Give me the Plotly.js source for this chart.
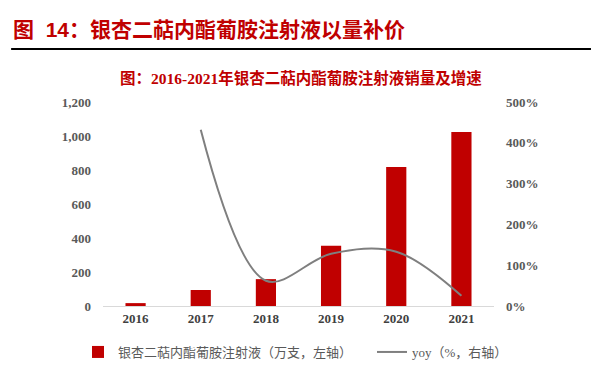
<!DOCTYPE html>
<html>
<head>
<meta charset="utf-8">
<script src="https://cdn.plot.ly/plotly-3.0.1.min.js"></script>
<style>html,body{margin:0;padding:0;background:#fff;}#chart{width:601px;height:377px;}</style>
</head>
<body>
<div id="chart"></div>
<script>
const years = ['2016', '2017', '2018', '2019', '2020', '2021'];
const sales = [17, 94, 158, 354, 818, 1024];
const yoy = [null, 432, 62, 128, 133, 25];
const leftTicks = [0, 200, 400, 600, 800, 1000, 1200];
const leftTickText = ['0', '200', '400', '600', '800', '1,000', '1,200'];
const rightTicks = [0, 100, 200, 300, 400, 500];
const rightTickText = ['0%', '100%', '200%', '300%', '400%', '500%'];
const seriesNames = ['银杏二萜内酯葡胺注射液（万支，左轴）', 'yoy（%，右轴）'];
const headerText = '图  14：银杏二萜内酯葡胺注射液以量补价';
const subText = '图：2016-2021年银杏二萜内酯葡胺注射液销量及增速';

const serif = '"Liberation Serif", "Noto Sans CJK SC", serif';
const tickFont = {family: serif, size: 13, color: '#595959', weight: 'bold'};
const legendFont = {family: serif, size: 13, color: '#595959'};

const traces = [
  {type: 'bar', x: years, y: sales, name: seriesNames[0], marker: {color: '#c00000'}, width: 0.31, yaxis: 'y', legend: 'legend'},
  {type: 'scatter', mode: 'lines', x: years, y: yoy, name: seriesNames[1], yaxis: 'y2', legend: 'legend2',
   line: {color: '#7f7f7f', width: 2, shape: 'spline', smoothing: 1}, connectgaps: false}
];

const layout = {
  width: 601, height: 377,
  margin: {l: 103, r: 107, t: 102, b: 71},
  paper_bgcolor: '#fff', plot_bgcolor: '#fff',
  showlegend: true,
  title: {text: headerText, xref: 'container', x: 13/601, xanchor: 'left', yref: 'container', y: 1 - 30/377, yanchor: 'middle',
          font: {family: '"Liberation Sans", "Noto Sans CJK SC", sans-serif', size: 21, color: '#c00000', weight: 'bold'}},
  xaxis: {type: 'category', showgrid: false, showline: true, linecolor: '#d9d9d9', linewidth: 1, ticks: '',
          tickfont: {family: serif, size: 13, color: '#404040', weight: 'bold'}, zeroline: false},
  yaxis: {range: [0, 1200], tickvals: leftTicks, ticktext: leftTickText, showgrid: false, zeroline: false, showline: false,
          ticks: '', tickfont: tickFont, ticklabelstandoff: 11},
  yaxis2: {range: [0, 500], tickvals: rightTicks, ticktext: rightTickText, overlaying: 'y', side: 'right', showgrid: false,
           zeroline: false, showline: false, ticks: '', tickfont: tickFont, ticklabelstandoff: 11},
  legend: {orientation: 'h', xref: 'container', yref: 'container', x: 78/601, xanchor: 'left', y: 1 - 352/377, yanchor: 'middle',
           font: legendFont, itemwidth: 30, bgcolor: 'rgba(0,0,0,0)'},
  legend2: {orientation: 'h', xref: 'container', yref: 'container', x: 372/601, xanchor: 'left', y: 1 - 352/377, yanchor: 'middle',
           font: legendFont, itemwidth: 30, bgcolor: 'rgba(0,0,0,0)'},
  annotations: [
    {text: subText, xref: 'paper', yref: 'paper', x: 0.506, y: 1.118, xanchor: 'center', yanchor: 'middle', showarrow: false,
     font: {family: serif, size: 15.5, color: '#c00000', weight: 'bold'}}
  ],
  shapes: [
    {type: 'line', xref: 'paper', yref: 'paper', x0: -0.235, x1: 1.248, y0: 1.26, y1: 1.26, line: {color: '#000', width: 2}}
  ]
};

Plotly.newPlot('chart', traces, layout, {displayModeBar: false, staticPlot: true});
</script>
</body>
</html>
